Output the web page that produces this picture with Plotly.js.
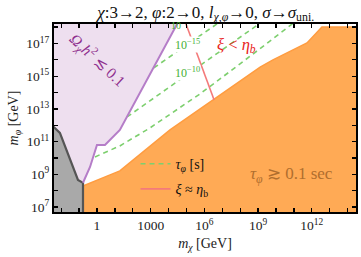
<!DOCTYPE html>
<html>
<head>
<meta charset="utf-8">
<script src="https://cdn.plot.ly/plotly-3.0.1.min.js"></script>
<style>html,body{margin:0;padding:0;background:#fff}#chart{width:361px;height:257px}</style>
</head>
<body>
<div id="chart"></div>
<script>
// ---- data ----
// gray excluded region boundary (m_chi, m_phi in GeV)
const grayLineX = [3.0e-3, 8.5e-3, 8.7e-2, 0.166, 0.166];
const grayLineY = [1.0e12, 3.4e11, 4.5e8, 3.0e8, 3.0e6];
// relic-abundance boundary (purple)
const purpX = [0.166, 0.41, 1.0, 2.8, 19, 3.4e4];
const purpY = [3.0e8, 2.8e9, 6.2e10, 6.2e10, 5.1e11, 2.0e18];
// tau_phi >~ 0.1 s boundary (orange)
const orX = [0.166, 1, 5.4, 19, 170, 1.2e4, 1.3e9, 6.8e9, 5.4e11, 3.7e12, 4e14];
const orY = [1.9e8, 4.5e8, 9.1e8, 1.6e9, 1.15e10, 5.1e11, 3.6e15, 9.8e15, 1.07e17, 1.02e18, 1.02e18];
// tau_phi contours [s]
const g5X = [0.78, 19, 910, 5.6e5, 9.8e7, 1.15e11];
const g5Y = [1.15e10, 5.4e10, 6.8e11, 8.1e13, 5.6e15, 2.1e18];
const g10X = [48, 1.07e5, 1.65e9];
const g10Y = [3.2e12, 1.17e15, 2.1e18];
const g15X = [1.5e3, 7.4e6];
const g15Y = [3.2e15, 2.1e18];
// xi ~ eta_b line
const redX = [8.5e4, 3.5e6];
const redY = [2.1e18, 3.5e13];
// ticks
const xTickVals = [1e-2,1e-1,1,1e1,1e2,1e3,1e4,1e5,1e6,1e7,1e8,1e9,1e10,1e11,1e12,1e13,1e14];
const xTickText = ['','','1','','','1000','','','10<sup>6</sup>','','','10<sup>9</sup>','','','10<sup>12</sup>','',''];
const yTickVals = [1e7,1e8,1e9,1e10,1e11,1e12,1e13,1e14,1e15,1e16,1e17,1e18];
const yTickText = ['10<sup>7</sup>','','10<sup>9</sup>','','10<sup>11</sup>','','10<sup>13</sup>','','10<sup>15</sup>','','10<sup>17</sup>',''];

// ---- polygons built from the arrays ----
const lavX = [grayLineX[0]].concat(grayLineX.slice(0,4), purpX.slice(1));
const lavY = [purpY[purpY.length-1]].concat(grayLineY.slice(0,4), purpY.slice(1));
const grayX = grayLineX.concat([grayLineX[0]]);
const grayY = grayLineY.concat([grayLineY[grayLineY.length-1]]);
const orPolyX = orX.concat([orX[orX.length-1], orX[0]]);
const orPolyY = orY.concat([grayLineY[grayLineY.length-1], grayLineY[grayLineY.length-1]]);

const FONT = 'Liberation Serif, Times New Roman, serif';
const green = '#7DCF6E';
const dash = '5px,4px';

const traces = [
  {x: lavX, y: lavY, mode:'lines', fill:'toself', fillcolor:'#EEDFEF', line:{width:0}, hoverinfo:'skip', showlegend:false},
  {x: grayX, y: grayY, mode:'lines', fill:'toself', fillcolor:'#A9A9A9', line:{width:0}, hoverinfo:'skip', showlegend:false},
  {x: orPolyX, y: orPolyY, mode:'lines', fill:'toself', fillcolor:'#FFAA55', line:{width:0}, hoverinfo:'skip', showlegend:false},
  {x: orX, y: orY, mode:'lines', line:{color:'#FF9C40', width:1.5}, showlegend:false},
  {x: g5X, y: g5Y, mode:'lines', name:'<i>τ<sub>φ</sub></i> [s]', line:{color:green, width:1.6, dash:dash}, legendgroup:'a', showlegend:true},
  {x: g10X, y: g10Y, mode:'lines', line:{color:green, width:1.6, dash:dash}, showlegend:false},
  {x: g15X, y: g15Y, mode:'lines', line:{color:green, width:1.6, dash:dash}, showlegend:false},
  {x: redX, y: redY, mode:'lines', name:'<i>ξ</i> ≈ <i>η</i><sub>b</sub>', line:{color:'#F47A7A', width:1.6}, legendgroup:'b', showlegend:true},
  {x: grayLineX, y: grayLineY, mode:'lines', line:{color:'#555555', width:2.2}, showlegend:false},
  {x: purpX, y: purpY, mode:'lines', line:{color:'#B57DC8', width:2}, showlegend:false}
];

const axisCommon = {
  type:'log', showgrid:false, zeroline:false, showline:true, linecolor:'#000', linewidth:2,
  mirror:'ticks', ticks:'inside', ticklen:4, tickwidth:1.3, tickcolor:'#000',
  tickfont:{family:FONT, size:13.5, color:'#222'}
};

const layout = {
  width:361, height:257,
  margin:{l:54, r:5, t:24, b:45},
  paper_bgcolor:'#fff', plot_bgcolor:'#fff',
  font:{family:FONT, color:'#222'},
  title:{text:'<i>χ</i>:3→2, <i>φ</i>:2→0, <i>l</i><sub><i>χ</i>,<i>φ</i></sub>→0, <i>σ</i>→<i>σ</i><sub>uni.</sub>',
         font:{family:FONT, size:17, color:'#111'}, x:0.57, xref:'container', xanchor:'center', y:0.955, yanchor:'middle'},
  xaxis: Object.assign({}, axisCommon, {range:[-2.40, 14.47], tickvals:xTickVals, ticktext:xTickText,
         title:{text:'<i>m<sub>χ</sub></i> [GeV]', font:{family:FONT, size:14, color:'#222'}, standoff:6}}),
  yaxis: Object.assign({}, axisCommon, {range:[6.69, 18.19], tickvals:yTickVals, ticktext:yTickText,
         title:{text:'<i>m<sub>φ</sub></i> [GeV]', font:{family:FONT, size:14, color:'#222'}, standoff:4}}),
  showlegend:true,
  legend:{x:0.27, y:0.34, xanchor:'left', yanchor:'top', bgcolor:'rgba(0,0,0,0)', borderwidth:0,
          font:{family:FONT, size:14, color:'#111'}, tracegroupgap:4},
  annotations:[
    {x:0.05, y:15.99, xref:'x', yref:'y', text:'<i>Ω<sub>χ</sub>h</i><sup>2</sup> ≲ 0.1', showarrow:false, textangle:43,
     font:{family:FONT, size:15.5, color:'#8E2F8E'}},
    {x:7.82, y:16.91, xref:'x', yref:'y', text:'<i>ξ</i> < <i>η<sub>b</sub></i>', showarrow:false,
     font:{family:FONT, size:16.5, color:'#E8231C'}},
    {x:5.03, y:16.91, xref:'x', yref:'y', text:'10<sup>−15</sup>', showarrow:false, bgcolor:'#fff', borderpad:0,
     font:{family:FONT, size:12, color:'#45B035'}},
    {x:5.03, y:15.20, xref:'x', yref:'y', text:'10<sup>−10</sup>', showarrow:false, bgcolor:'#fff', borderpad:0,
     font:{family:FONT, size:12, color:'#45B035'}},
    {x:4.41, y:18.10, xref:'x', yref:'y', text:'10', showarrow:false,
     font:{family:FONT, size:10, color:'#45B035'}},
    {x:10.89, y:8.96, xref:'x', yref:'y', text:'<i>τ<sub>φ</sub></i> ≳ 0.1 sec', showarrow:false,
     font:{family:FONT, size:17, color:'#B06E2E'}}
  ]
};

Plotly.newPlot('chart', traces, layout, {staticPlot:true, displayModeBar:false});
</script>
</body>
</html>
